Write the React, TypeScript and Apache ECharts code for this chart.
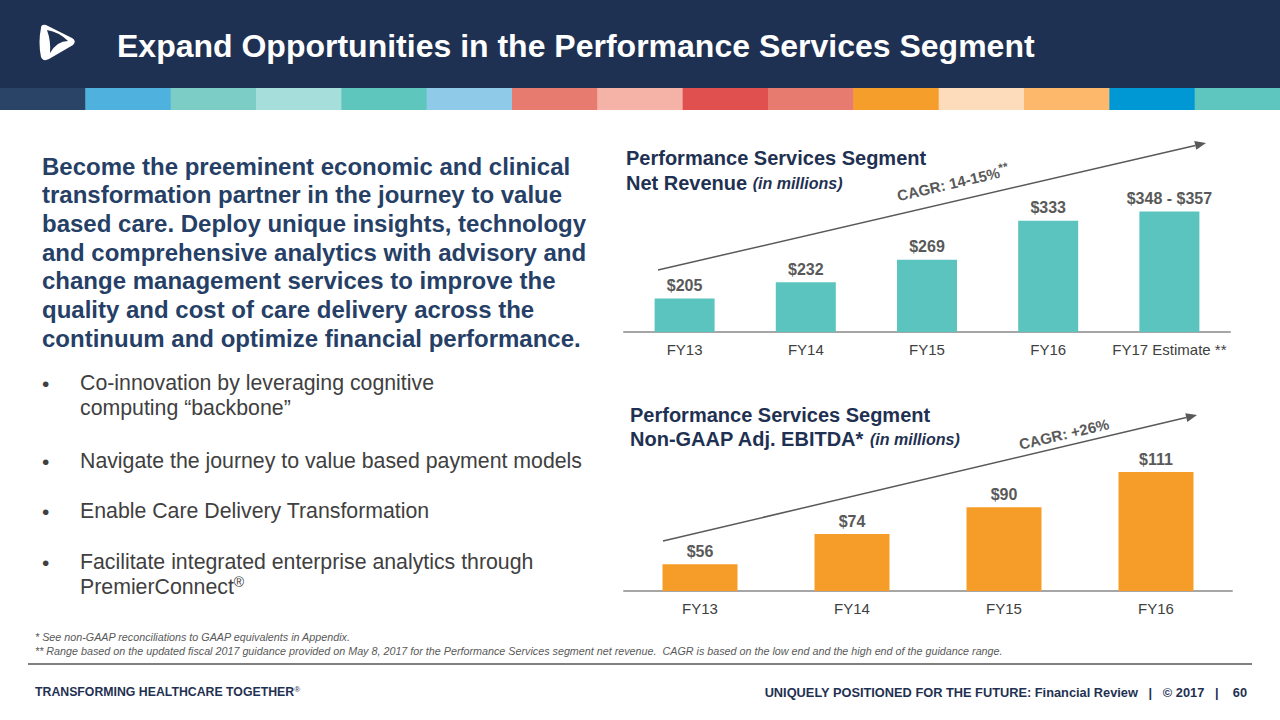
import React, { useEffect, useRef } from "react";
import * as echarts from "echarts";

const revenueCategories = ["FY13", "FY14", "FY15", "FY16", "FY17 Estimate **"];
const revenueValues = [205, 232, 269, 333, 348];
const revenueLabels = ["$205", "$232", "$269", "$333", "$348 - $357"];

const ebitdaCategories = ["FY13", "FY14", "FY15", "FY16"];
const ebitdaValues = [56, 74, 90, 111];
const ebitdaLabels = ["$56", "$74", "$90", "$111"];

const stripColors = [
  "#2a4468", "#4eb1de", "#7ccdc6", "#a6dedc", "#5ec6bd",
  "#8fcbe8", "#e87b70", "#f5b3a8", "#e0504f", "#e87b70",
  "#f59e2b", "#fddcbc", "#fdb86b", "#0098d4", "#5ec6bf",
];

const paragraphLines = [
  "Become the preeminent economic and clinical",
  "transformation partner in the journey to value",
  "based care. Deploy unique insights, technology",
  "and comprehensive analytics with advisory and",
  "change management services to improve the",
  "quality and cost of care delivery across the",
  "continuum and optimize financial performance.",
];

const FONT = "'Liberation Sans', Arial, Helvetica, sans-serif";
const NAVY = "#1f3152";

function arrow(x1: number, y1: number, x2: number, y2: number, color: string) {
  const ang = Math.atan2(y2 - y1, x2 - x1);
  const len = 11;
  const half = 4.5;
  const bx = x2 - len * Math.cos(ang);
  const by = y2 - len * Math.sin(ang);
  const px = -Math.sin(ang) * half;
  const py = Math.cos(ang) * half;
  return [
    {
      type: "line",
      shape: { x1, y1, x2: bx, y2: by },
      style: { stroke: color, lineWidth: 1.5 },
    },
    {
      type: "polygon",
      shape: { points: [[x2, y2], [bx + px, by + py], [bx - px, by - py]] },
      style: { fill: color },
    },
  ];
}

export default function App() {
  const ref = useRef<HTMLDivElement>(null);
  useEffect(() => {
    if (!ref.current) return;
    echarts.graphic.registerShape(
      "logoOuter",
      echarts.graphic.extendPath(
        "M5,4 Q5,0 10,1 L36,14 Q41,17 37,21 L13,35 Q7,38 5,33 Q2,18 5,4 Z",
        {}
      )
    );
    echarts.graphic.registerShape(
      "logoInner",
      echarts.graphic.extendPath(
        "M11,6 Q23,8 32,17 Q21,17 14,29 Q15,17 11,6 Z",
        {}
      )
    );
    const chart = echarts.init(ref.current, null, { renderer: "svg" });

    const graphic: any[] = [];
    // header
    graphic.push({ type: "rect", shape: { x: 0, y: 0, width: 1280, height: 88 }, style: { fill: NAVY } });
    stripColors.forEach((c, i) => {
      graphic.push({
        type: "rect",
        shape: { x: (i * 1280) / 15, y: 88, width: 1280 / 15 + 0.5, height: 22 },
        style: { fill: c },
      });
    });
    graphic.push({ type: "logoOuter", x: 36, y: 24, scaleX: 1, scaleY: 1, style: { fill: "#ffffff" } });
    graphic.push({ type: "logoInner", x: 36, y: 24, scaleX: 1, scaleY: 1, style: { fill: NAVY } });
    graphic.push({
      type: "text",
      x: 117,
      y: 46,
      style: {
        text: "Expand Opportunities in the Performance Services Segment",
        fill: "#ffffff",
        font: `bold 32px ${FONT}`,
        verticalAlign: "middle",
      },
    });

    // left paragraph
    paragraphLines.forEach((t, i) => {
      graphic.push({
        type: "text",
        x: 42,
        y: 166 + i * 28.7,
        style: { text: t, fill: "#263f66", font: `bold 24px ${FONT}`, verticalAlign: "middle" },
      });
    });

    // bullets
    const bullets: [number, string, boolean][] = [
      [383, "Co-innovation by leveraging cognitive", true],
      [408, "computing \u201cbackbone\u201d", false],
      [461, "Navigate the journey to value based payment models", true],
      [511, "Enable Care Delivery Transformation", true],
      [562, "Facilitate integrated enterprise analytics through", true],
    ];
    bullets.forEach(([y, t, dot]) => {
      if (dot)
        graphic.push({
          type: "text",
          x: 42,
          y,
          style: { text: "\u2022", fill: "#404040", font: `21px ${FONT}`, verticalAlign: "middle" },
        });
      graphic.push({
        type: "text",
        x: 80,
        y,
        style: { text: t, fill: "#404040", font: `21.3px ${FONT}`, verticalAlign: "middle" },
      });
    });
    graphic.push({
      type: "text",
      x: 80,
      y: 587,
      style: {
        text: "{n|PremierConnect}{s|\u00ae}",
        verticalAlign: "middle",
        rich: {
          n: { fill: "#404040", font: `21.3px ${FONT}` },
          s: { fill: "#404040", font: `14px ${FONT}`, verticalAlign: "top", padding: [0, 0, 10, 0] },
        },
      },
    });

    // chart titles
    graphic.push({
      type: "text",
      x: 626,
      y: 158,
      style: { text: "Performance Services Segment", fill: NAVY, font: `bold 20px ${FONT}`, verticalAlign: "middle" },
    });
    graphic.push({
      type: "text",
      x: 626,
      y: 183,
      style: {
        text: "{b|Net Revenue }{i|(in millions)}",
        verticalAlign: "middle",
        rich: {
          b: { fill: NAVY, font: `bold 20px ${FONT}` },
          i: { fill: NAVY, font: `italic bold 16px ${FONT}` },
        },
      },
    });
    graphic.push({
      type: "text",
      x: 630,
      y: 415,
      style: { text: "Performance Services Segment", fill: NAVY, font: `bold 20px ${FONT}`, verticalAlign: "middle" },
    });
    graphic.push({
      type: "text",
      x: 630,
      y: 439,
      style: {
        text: "{b|Non-GAAP Adj. EBITDA* }{i|(in millions)}",
        verticalAlign: "middle",
        rich: {
          b: { fill: NAVY, font: `bold 20px ${FONT}` },
          i: { fill: NAVY, font: `italic bold 16px ${FONT}` },
        },
      },
    });

    // arrows
    graphic.push(...arrow(658, 270, 1206, 143, "#595959"));
    graphic.push(...arrow(663, 541, 1197, 415, "#595959"));
    graphic.push({
      type: "text",
      x: 953,
      y: 183,
      rotation: 0.228,
      style: {
        text: "{a|CAGR: 14-15%}{s|**}",
        align: "center",
        verticalAlign: "middle",
        rich: {
          a: { fill: "#595959", font: `bold 15px ${FONT}` },
          s: { fill: "#595959", font: `bold 12px ${FONT}`, verticalAlign: "top", padding: [0, 0, 8, 0] },
        },
      },
    });
    graphic.push({
      type: "text",
      x: 1064,
      y: 434,
      rotation: 0.23,
      style: {
        text: "CAGR: +26%",
        fill: "#595959",
        font: `bold 15px ${FONT}`,
        align: "center",
        verticalAlign: "middle",
      },
    });

    // footnotes
    graphic.push({
      type: "text",
      x: 35,
      y: 637,
      style: {
        text: "* See non-GAAP reconciliations to GAAP equivalents in Appendix.",
        fill: "#595959",
        font: `italic 10.75px ${FONT}`,
        verticalAlign: "middle",
      },
    });
    graphic.push({
      type: "text",
      x: 35,
      y: 651,
      style: {
        text:
          "** Range based on the updated fiscal 2017 guidance provided on May 8, 2017 for the Performance Services segment net revenue.  CAGR is based on the low end and the high end of the guidance range.",
        fill: "#595959",
        font: `italic 10.75px ${FONT}`,
        verticalAlign: "middle",
      },
    });
    graphic.push({
      type: "line",
      shape: { x1: 28, y1: 664, x2: 1252, y2: 664 },
      style: { stroke: "#808080", lineWidth: 2 },
    });
    graphic.push({
      type: "text",
      x: 35,
      y: 692,
      style: {
        text: "{b|TRANSFORMING HEALTHCARE TOGETHER}{s|\u00ae}",
        verticalAlign: "middle",
        rich: {
          b: { fill: NAVY, font: `bold 12.3px ${FONT}` },
          s: { fill: NAVY, font: `8px ${FONT}`, verticalAlign: "top", padding: [0, 0, 5, 0] },
        },
      },
    });
    graphic.push({
      type: "text",
      x: 1247,
      y: 692,
      style: {
        text: "UNIQUELY POSITIONED FOR THE FUTURE: Financial Review   |   \u00a9 2017   |    60",
        fill: NAVY,
        font: `bold 12.8px ${FONT}`,
        align: "right",
        verticalAlign: "middle",
      },
    });

    const axisCommon = {
      type: "category" as const,
      axisLine: { show: true, lineStyle: { color: "#a6a6a6", width: 2 } },
      axisTick: { show: false },
      axisLabel: { color: "#404040", fontSize: 15, fontFamily: FONT, margin: 10, interval: 0 },
    };
    const labelCommon = {
      show: true,
      position: "top" as const,
      distance: 5,
      color: "#595959",
      fontWeight: "bold" as const,
      fontSize: 16,
      fontFamily: FONT,
    };

    chart.setOption({
      animation: false,
      textStyle: { fontFamily: FONT },
      grid: [
        { left: 624, top: 180, width: 606, height: 152 },
        { left: 624, top: 457, width: 608, height: 134 },
      ],
      xAxis: [
        { ...axisCommon, gridIndex: 0, data: revenueCategories },
        { ...axisCommon, gridIndex: 1, data: ebitdaCategories },
      ],
      yAxis: [
        { type: "value", gridIndex: 0, min: 150, max: 400, show: false, splitLine: { show: false } },
        { type: "value", gridIndex: 1, min: 40, max: 120, show: false, splitLine: { show: false } },
      ],
      series: [
        {
          type: "bar",
          xAxisIndex: 0,
          yAxisIndex: 0,
          data: revenueValues,
          barWidth: 60,
          itemStyle: { color: "#5bc4bf" },
          label: { ...labelCommon, formatter: (p: any) => revenueLabels[p.dataIndex] },
        },
        {
          type: "bar",
          xAxisIndex: 1,
          yAxisIndex: 1,
          data: ebitdaValues,
          barWidth: 75,
          itemStyle: { color: "#f59d28" },
          label: { ...labelCommon, formatter: (p: any) => ebitdaLabels[p.dataIndex] },
        },
      ],
      graphic,
    });
    return () => chart.dispose();
  }, []);
  return (
    <div
      ref={ref}
      style={{ position: "fixed", left: 0, top: 0, width: 1280, height: 720, background: "#ffffff" }}
    />
  );
}
